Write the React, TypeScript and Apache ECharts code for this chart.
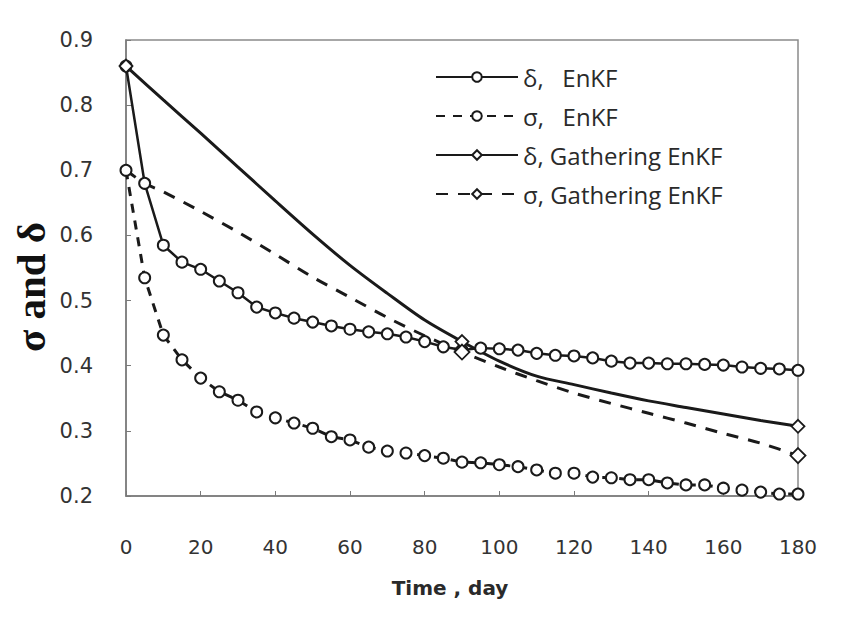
import React, { useEffect, useRef } from "react";
import * as echarts from "echarts";

const enkfDays = [0, 5, 10, 15, 20, 25, 30, 35, 40, 45, 50, 55, 60, 65, 70, 75, 80, 85, 90, 95, 100, 105, 110, 115, 120, 125, 130, 135, 140, 145, 150, 155, 160, 165, 170, 175, 180];
const deltaEnkf = [0.86, 0.68, 0.585, 0.559, 0.548, 0.53, 0.512, 0.49, 0.481, 0.473, 0.467, 0.461, 0.456, 0.452, 0.449, 0.444, 0.437, 0.429, 0.424, 0.427, 0.426, 0.424, 0.419, 0.416, 0.415, 0.412, 0.407, 0.404, 0.404, 0.403, 0.403, 0.402, 0.401, 0.398, 0.396, 0.395, 0.393];
const sigmaEnkf = [0.7, 0.535, 0.447, 0.409, 0.381, 0.36, 0.347, 0.329, 0.32, 0.312, 0.304, 0.291, 0.286, 0.275, 0.269, 0.266, 0.262, 0.258, 0.252, 0.251, 0.248, 0.245, 0.24, 0.235, 0.235, 0.229, 0.228, 0.225, 0.225, 0.22, 0.217, 0.217, 0.212, 0.209, 0.206, 0.203, 0.203];

const gatherDays = [0, 10, 20, 30, 40, 50, 60, 70, 80, 90, 100, 110, 120, 130, 140, 150, 160, 170, 180];
const deltaGather = [0.86, 0.808, 0.757, 0.705, 0.653, 0.602, 0.554, 0.511, 0.47, 0.437, 0.407, 0.384, 0.371, 0.358, 0.346, 0.336, 0.326, 0.316, 0.307];
const sigmaGatherDays = [0, 5, 10, 20, 30, 40, 50, 60, 70, 80, 90, 100, 110, 120, 130, 140, 150, 160, 170, 180];
const sigmaGather = [0.7, 0.68, 0.667, 0.637, 0.605, 0.571, 0.536, 0.505, 0.474, 0.446, 0.421, 0.398, 0.377, 0.358, 0.342, 0.327, 0.312, 0.296, 0.281, 0.262];
const deltaGatherMarkerDays = [0, 90, 180];
const sigmaGatherMarkerDays = [90, 180];

const xTicks = [0, 20, 40, 60, 80, 100, 120, 140, 160, 180];
const yTicks = [0.2, 0.3, 0.4, 0.5, 0.6, 0.7, 0.8, 0.9];

const seriesNames = ["δ,   EnKF", "σ,   EnKF", "δ, Gathering EnKF", "σ, Gathering EnKF"];
const xTitle = "Time , day";
const yTitle = "σ and δ";

const INK = "#1a1a1a";

export default function App() {
  const ref = useRef<HTMLDivElement>(null);
  useEffect(() => {
    if (!ref.current) return;
    const chart = echarts.init(ref.current, undefined, { renderer: "svg" });
    const pairs = (xs: number[], ys: number[]) => xs.map((x, i) => [x, ys[i]]);
    const marked = (xs: number[], ys: number[], marks: number[]) =>
      xs.map((x, i) => ({
        value: [x, ys[i]],
        symbol: marks.includes(x) ? "diamond" : "none",
      }));
    chart.setOption({
      animation: false,
      backgroundColor: "#ffffff",
      grid: {
        left: 126,
        right: 45,
        top: 40,
        bottom: 127,
        show: true,
        borderColor: "#8a8a8a",
        borderWidth: 1.5,
      },
      legend: {
        orient: "vertical",
        left: 430,
        top: 60,
        itemWidth: 82,
        itemHeight: 12,
        itemGap: 15,
        textStyle: { fontFamily: "Open Sans", fontSize: 24, color: "#2a2a2a" },
        data: seriesNames,
      },
      graphic: [
        {
          type: "text",
          x: 450,
          y: 588,
          style: {
            text: xTitle,
            fontFamily: "DejaVu Sans",
            fontWeight: "bold",
            fontSize: 20,
            fill: "#2a2a2a",
            align: "center",
            verticalAlign: "middle",
          },
        },
        {
          type: "text",
          x: 31,
          y: 287,
          rotation: Math.PI / 2,
          style: {
            text: yTitle,
            fontFamily: "Liberation Serif",
            fontWeight: "bold",
            fontSize: 41,
            fill: "#111",
            align: "center",
            verticalAlign: "middle",
          },
        },
      ],
      xAxis: {
        type: "value",
        min: xTicks[0],
        max: xTicks[xTicks.length - 1],
        interval: 20,
        axisLine: { lineStyle: { color: "#7a7a7a", width: 1.5 } },
        axisTick: { inside: true, length: 5, lineStyle: { color: "#7a7a7a" } },
        axisLabel: { margin: 41, fontFamily: "DejaVu Sans", fontSize: 20, color: "#333" },
        splitLine: { show: false },
      },
      yAxis: {
        type: "value",
        min: yTicks[0],
        max: yTicks[yTicks.length - 1],
        interval: 0.1,
        axisLine: { show: true, lineStyle: { color: "#7a7a7a", width: 1.5 } },
        axisTick: { show: true, inside: true, length: 5, lineStyle: { color: "#7a7a7a" } },
        axisLabel: { margin: 33, fontFamily: "DejaVu Sans", fontSize: 21, color: "#333", formatter: (v: number) => v.toFixed(1) },
        splitLine: { show: false },
      },
      series: [
        {
          name: seriesNames[0],
          type: "line",
          data: pairs(enkfDays, deltaEnkf),
          symbol: "circle",
          symbolSize: 11,
          showAllSymbol: true,
          lineStyle: { color: INK, width: 2.5 },
          itemStyle: { color: "#ffffff", borderColor: INK, borderWidth: 2 },
        },
        {
          name: seriesNames[1],
          type: "line",
          data: pairs(enkfDays, sigmaEnkf),
          symbol: "circle",
          symbolSize: 11,
          showAllSymbol: true,
          lineStyle: { color: INK, width: 3, type: [9, 8] },
          itemStyle: { color: "#ffffff", borderColor: INK, borderWidth: 2 },
        },
        {
          name: seriesNames[2],
          type: "line",
          data: marked(gatherDays, deltaGather, deltaGatherMarkerDays),
          symbol: "diamond",
          symbolSize: 13,
          showAllSymbol: true,
          smooth: 0.3,
          lineStyle: { color: INK, width: 3 },
          itemStyle: { color: "#ffffff", borderColor: INK, borderWidth: 1.8 },
        },
        {
          name: seriesNames[3],
          type: "line",
          data: marked(sigmaGatherDays, sigmaGather, sigmaGatherMarkerDays),
          symbol: "diamond",
          symbolSize: 15,
          showAllSymbol: true,
          smooth: 0.3,
          lineStyle: { color: INK, width: 3, type: [12, 10] },
          itemStyle: { color: "#ffffff", borderColor: INK, borderWidth: 1.8 },
        },
      ],
    });
    return () => chart.dispose();
  }, []);
  return (
    <div
      ref={ref}
      style={{ position: "fixed", left: 0, top: 0, width: 843, height: 623, background: "#fff" }}
    />
  );
}
